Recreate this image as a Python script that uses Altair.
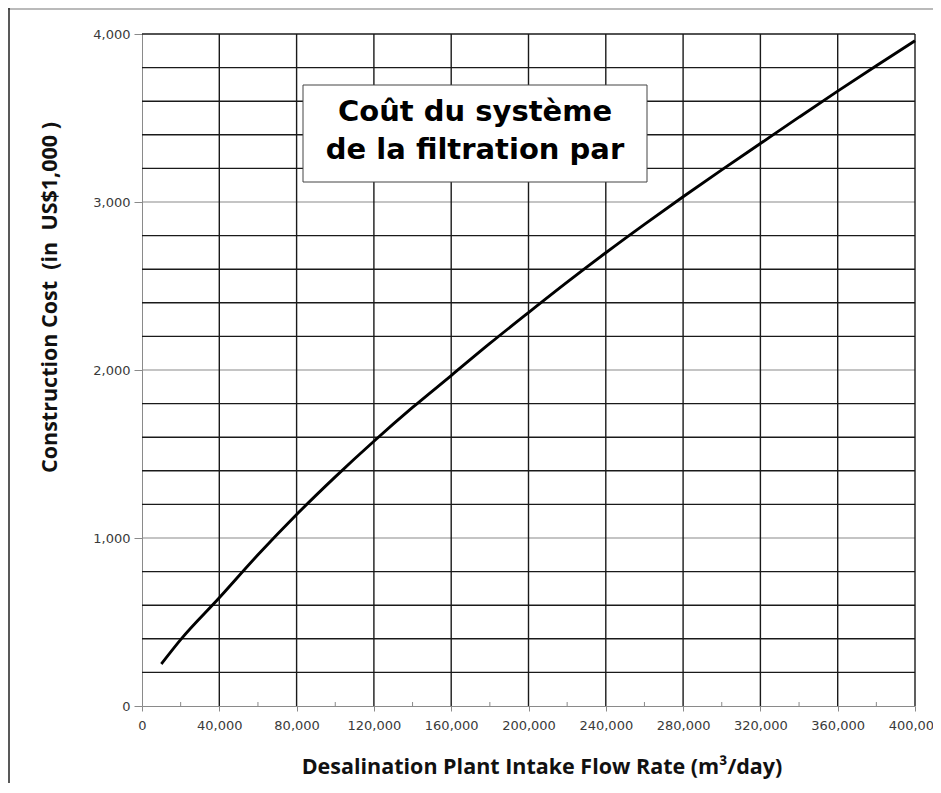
import altair as alt
import pandas as pd

# ---- data ----
flow = [10000, 20000, 40000, 60000, 80000, 100000, 120000, 140000, 160000, 180000,
        200000, 220000, 240000, 260000, 280000, 300000, 320000, 340000, 360000, 380000, 400000]
cost = [250, 395, 644, 900, 1140, 1364, 1576, 1777, 1967, 2158,
        2342, 2523, 2698, 2867, 3031, 3191, 3348, 3505, 3660, 3811, 3960]

x_grid = [40000, 80000, 120000, 160000, 200000, 240000, 280000, 320000, 360000, 400000]
y_grid_dark = [200, 400, 600, 800, 1200, 1400, 1600, 1800, 2200, 2400, 2600, 2800,
               3200, 3400, 3600, 3800, 4000]
y_grid_major = [1000, 2000, 3000]
x_minor = [20000, 60000, 100000, 140000, 180000, 220000, 260000, 300000, 340000, 380000]
x_ticks = [0, 40000, 80000, 120000, 160000, 200000, 240000, 280000, 320000, 360000, 400000]
y_ticks = [0, 1000, 2000, 3000, 4000]

box_lines = ["Coût du système", "de la filtration par"]
x_title = "Desalination Plant Intake Flow Rate (m\u00b3/day)"
y_title = "Construction Cost\u00a0\u00a0(in\u00a0\u00a0US$1,000 )"

W, H = 773, 672
PAD_L, PAD_T, PAD_R, PAD_B = 134, 26, 18, 77

df = pd.DataFrame({"flow": flow, "cost": cost})
xs = alt.Scale(domain=[0, 400000], nice=False, zero=False)
ys = alt.Scale(domain=[0, 4000], nice=False, zero=False)

x_axis = alt.Axis(values=x_ticks, format=",d", title=x_title, grid=False,
                  domainColor="#8a8a8a", tickColor="#8a8a8a", tickSize=5,
                  labelPadding=8, labelFont="DejaVu Sans", labelFontSize=13,
                  labelColor="#3a3a3a", titleFont="Open Sans", titleFontSize=21.5,
                  titleFontWeight="bold", titleColor="#111111",
                  titleX=399.5, titleY=61, titleBaseline="middle", labelFlush=False)
y_axis = alt.Axis(values=y_ticks, format=",d", title=y_title, grid=False,
                  domainColor="#8a8a8a", tickColor="#8a8a8a", tickSize=8,
                  labelPadding=4, labelFont="DejaVu Sans", labelFontSize=13,
                  labelColor="#3a3a3a", titleFont="Open Sans", titleFontSize=21.5,
                  titleFontWeight="bold", titleColor="#111111",
                  titleX=-92, titleY=263, titleBaseline="middle", titleAngle=270)

one = pd.DataFrame({"a": [0]})

# invisible layer carrying the axes (drawn first)
axes_layer = alt.Chart(df).mark_line(opacity=0).encode(
    x=alt.X("flow:Q", scale=xs, axis=x_axis),
    y=alt.Y("cost:Q", scale=ys, axis=y_axis))

vgrid = alt.Chart(pd.DataFrame({"flow": x_grid})).mark_rule(color="#1a1a1a", strokeWidth=1.4).encode(
    x=alt.X("flow:Q", scale=xs, axis=x_axis))
hgrid = alt.Chart(pd.DataFrame({"cost": y_grid_dark})).mark_rule(color="#1a1a1a", strokeWidth=1.4).encode(
    y=alt.Y("cost:Q", scale=ys, axis=y_axis))
hgrid_major = alt.Chart(pd.DataFrame({"cost": y_grid_major})).mark_rule(color="#8a8a8a", strokeWidth=1.2).encode(
    y=alt.Y("cost:Q", scale=ys, axis=y_axis))
minor = alt.Chart(pd.DataFrame({"flow": x_minor})).mark_rule(color="#8a8a8a", strokeWidth=1).encode(
    x=alt.X("flow:Q", scale=xs, axis=x_axis), y=alt.value(H - 4), y2=alt.value(H))

line = alt.Chart(df).mark_line(color="#000000", strokeWidth=2.9, interpolate="monotone").encode(
    x=alt.X("flow:Q", scale=xs, axis=x_axis),
    y=alt.Y("cost:Q", scale=ys, axis=y_axis))

box = alt.Chart(one).mark_rect(fill="white", stroke="#444444", strokeWidth=1).encode(
    x=alt.value(161), x2=alt.value(505), y=alt.value(51), y2=alt.value(148))
txt1 = alt.Chart(one).mark_text(font="DejaVu Sans", fontWeight="bold", fontSize=29,
                                 baseline="middle", align="center", color="#000000").encode(
    x=alt.value(333), y=alt.value(78), text=alt.value(box_lines[0]))
txt2 = alt.Chart(one).mark_text(font="DejaVu Sans", fontWeight="bold", fontSize=29,
                                 baseline="middle", align="center", color="#000000").encode(
    x=alt.value(333), y=alt.value(116), text=alt.value(box_lines[1]))

frame_top = alt.Chart(one).mark_rule(color="#777777", strokeWidth=1.2).encode(
    x=alt.value(-PAD_L), x2=alt.value(W + PAD_R), y=alt.value(-PAD_T + 1))
frame_left = alt.Chart(one).mark_rule(color="#222222", strokeWidth=1.5).encode(
    x=alt.value(-PAD_L + 1), y=alt.value(-PAD_T), y2=alt.value(H + PAD_B))

chart = alt.layer(axes_layer, hgrid_major, hgrid, vgrid, minor, line, box, txt1, txt2,
                  frame_top, frame_left).properties(
    width=W, height=H,
    autosize=alt.AutoSizeParams(type="none"),
    padding={"left": PAD_L, "top": PAD_T, "right": PAD_R, "bottom": PAD_B},
    background="white",
).configure_view(strokeWidth=0)

chart.save("out.html", embed_options={"renderer": "svg", "actions": False})
